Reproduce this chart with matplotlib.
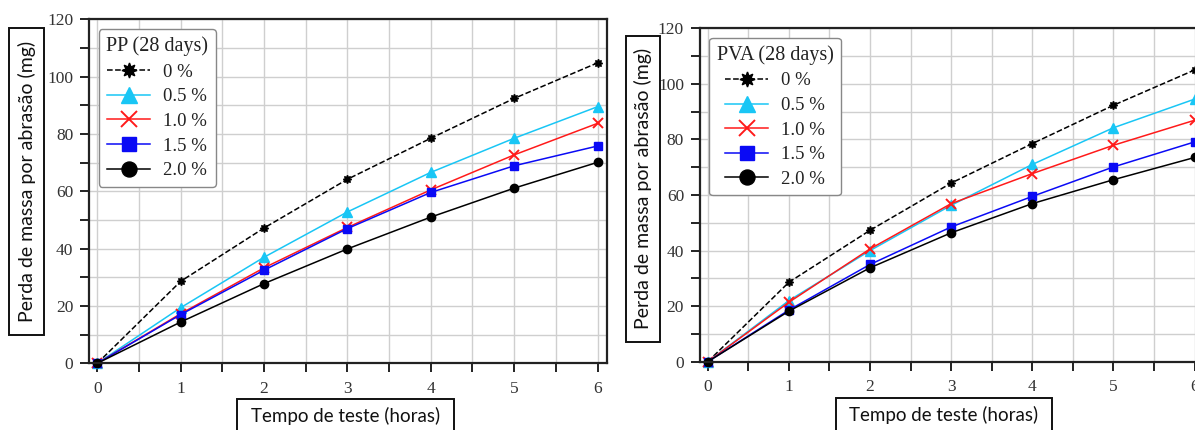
import matplotlib.pyplot as plt
from matplotlib.patches import Rectangle
from matplotlib.ticker import MultipleLocator

# abrasion test data (28 days), mass loss in mg per hour of testing
hours = [0, 1, 2, 3, 4, 5, 6]
labels = ['0 %', '0.5 %', '1.0 %', '1.5 %', '2.0 %']

pp_loss = [
    [0, 28.6, 47.2, 64.2, 78.5, 92.4, 104.8],
    [0, 19.4, 37.0, 52.8, 66.6, 78.5, 89.5],
    [0, 17.3, 33.3, 47.4, 60.5, 72.7, 83.7],
    [0, 17.0, 32.5, 47.0, 59.6, 68.9, 75.8],
    [0, 14.4, 27.8, 39.9, 51.0, 61.1, 70.1],
]
pva_loss = [
    [0, 28.6, 47.3, 64.3, 78.5, 92.3, 105.0],
    [0, 22.0, 40.0, 56.3, 71.0, 84.2, 94.5],
    [0, 21.4, 40.6, 56.9, 67.7, 77.9, 86.9],
    [0, 18.6, 35.0, 48.5, 59.5, 70.1, 79.1],
    [0, 18.2, 33.8, 46.4, 56.9, 65.5, 73.5],
]

styles = [
    dict(color='black', ls='--', marker=(8, 1, 0), ms=6),
    dict(color='#19C6F5', ls='-', marker='^', ms=6.5),
    dict(color='#FF1A1A', ls='-', marker='x', ms=6.5, mew=1.4),
    dict(color='#0A0AF5', ls='-', marker='s', ms=5.5),
    dict(color='black', ls='-', marker='o', ms=6),
]

W, H = 1195, 430
fig = plt.figure(figsize=(W / 100, H / 100), dpi=100)
serif = 'Liberation Serif'
sans = 'Lato'


def px_axes(l, r, t, b):
    return fig.add_axes([l / W, (H - b) / H, (r - l) / W, (b - t) / H])


def box_text(l, r, t, b, text, rot=0, size=12.5):
    fig.patches.append(Rectangle((l / W, (H - b) / H), (r - l) / W, (b - t) / H,
                                 transform=fig.transFigure, fill=False,
                                 ec='#111111', lw=1.4))
    fig.text((l + r) / 2 / W, (H - (t + b) / 2) / H, text, rotation=rot,
             ha='center', va='center', family=sans, fontsize=size, color='#111111')


def draw(ax, data, title):
    for vals, lab, st in zip(data, labels, styles):
        ax.plot(hours, vals, label=lab, lw=1.1, clip_on=False, **st)
    ax.set_xlim(-0.096, 6.11)
    ax.set_ylim(0, 120)
    ax.xaxis.set_major_locator(MultipleLocator(1))
    ax.xaxis.set_minor_locator(MultipleLocator(0.5))
    ax.yaxis.set_major_locator(MultipleLocator(20))
    ax.yaxis.set_minor_locator(MultipleLocator(10))
    ax.grid(True, which='both', color='#cfcfcf', lw=1.0)
    ax.set_axisbelow(True)
    ax.tick_params(which='both', direction='out', length=6.5, width=1.4,
                   color='#222222', labelcolor='#333333', labelsize=12.5,
                   top=False, right=False)
    ax.tick_params(axis='y', pad=5)
    ax.tick_params(axis='x', pad=6)
    for lab in ax.get_xticklabels() + ax.get_yticklabels():
        lab.set_family(serif)
    for sp in ax.spines.values():
        sp.set_linewidth(1.6)
        sp.set_color('#222222')
    leg = ax.legend(title=title, loc='upper left', bbox_to_anchor=(0.018, 0.972),
                    borderaxespad=0, fancybox=True, framealpha=1,
                    edgecolor='#888888', markerscale=1.8, handlelength=2.3,
                    handletextpad=0.7, labelspacing=0.4,
                    prop=dict(family=serif, size=13.5),
                    title_fontproperties=dict(family=serif, size=14.5))
    leg.get_frame().set_linewidth(1.0)
    leg.get_title().set_color('#222222')
    for t in leg.get_texts():
        t.set_color('#222222')


ax1 = px_axes(89.3, 606.7, 19.3, 363.3)
draw(ax1, pp_loss, 'PP (28 days)')
ax2 = px_axes(700, 1203.5, 28.3, 361.7)
draw(ax2, pva_loss, 'PVA (28 days)')

box_text(9, 44, 28, 335, 'Perda de massa por abrasão (mg)', rot=90, size=14)
box_text(626.4, 659.7, 36, 341.7, 'Perda de massa por abrasão (mg)', rot=90, size=14)
box_text(237, 454, 399, 432, 'Tempo de teste (horas)', size=13.5)
box_text(836, 1052, 398.3, 432, 'Tempo de teste (horas)', size=13.5)

fig.savefig('out.png', dpi=100)
